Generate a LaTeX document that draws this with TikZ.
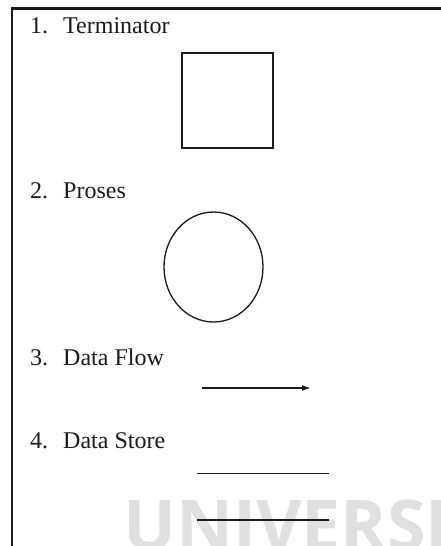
\documentclass[tikz,border=0pt]{standalone}
\usepackage{fontspec}
\setmainfont{Liberation Serif}
\newfontfamily\markfont{Open Sans}
\definecolor{ink}{RGB}{28,28,28}
\definecolor{wmark}{RGB}{224,224,224}
\usetikzlibrary{arrows.meta,shapes.geometric}

\begin{document}
\begin{tikzpicture}[x=1pt,y=-1pt,
    lbl/.style={anchor=base west,inner sep=0pt,font=\fontsize{24}{28}\selectfont,text=ink},
    sym/.style={draw=ink,line width=1.7pt,inner sep=0pt}]
  \clip (0,0) rectangle (441,546);
  \fill[white] (0,0) rectangle (441,546);
  % watermark, cut by the page edge
  \node[anchor=north west,inner sep=0pt,font=\markfont\bfseries\fontsize{70}{76}\selectfont,text=wmark] (mark) at (123,500) {UNIVERSI};
  % frame
  \draw[ink,line width=2.8pt] (12,560) -- (12,8.5) -- (460,8.5);

  \node[lbl] (n1) at (30,33) {1.};
  \node[lbl] (t1) at (63,33) {Terminator};
  \node[sym,minimum width=91pt,minimum height=95pt] (term) at (227.5,100.5) {};

  \node[lbl] (n2) at (30,198) {2.};
  \node[lbl] (t2) at (63,198) {Proses};
  \node[sym,ellipse,line width=1.3pt,minimum width=99pt,minimum height=110pt] (proc) at (213.5,267) {};

  \node[lbl] (n3) at (30,365) {3.};
  \node[lbl] (t3) at (63,365) {Data Flow};
  \coordinate (f0) at (202,388);
  \coordinate (f1) at (311,388);
  \draw[sym,-{Latex[length=9pt,width=6pt]}] (f0) -- (f1);

  \node[lbl] (n4) at (30,448) {4.};
  \node[lbl] (t4) at (63,448) {Data Store};
  \coordinate (s0) at (197,473.5);
  \coordinate (s1) at (329,473.5);
  \coordinate (s2) at (197,520);
  \coordinate (s3) at (329,520);
  \draw[sym] (s0) -- (s1);
  \draw[sym] (s2) -- (s3);
\end{tikzpicture}
\end{document}
